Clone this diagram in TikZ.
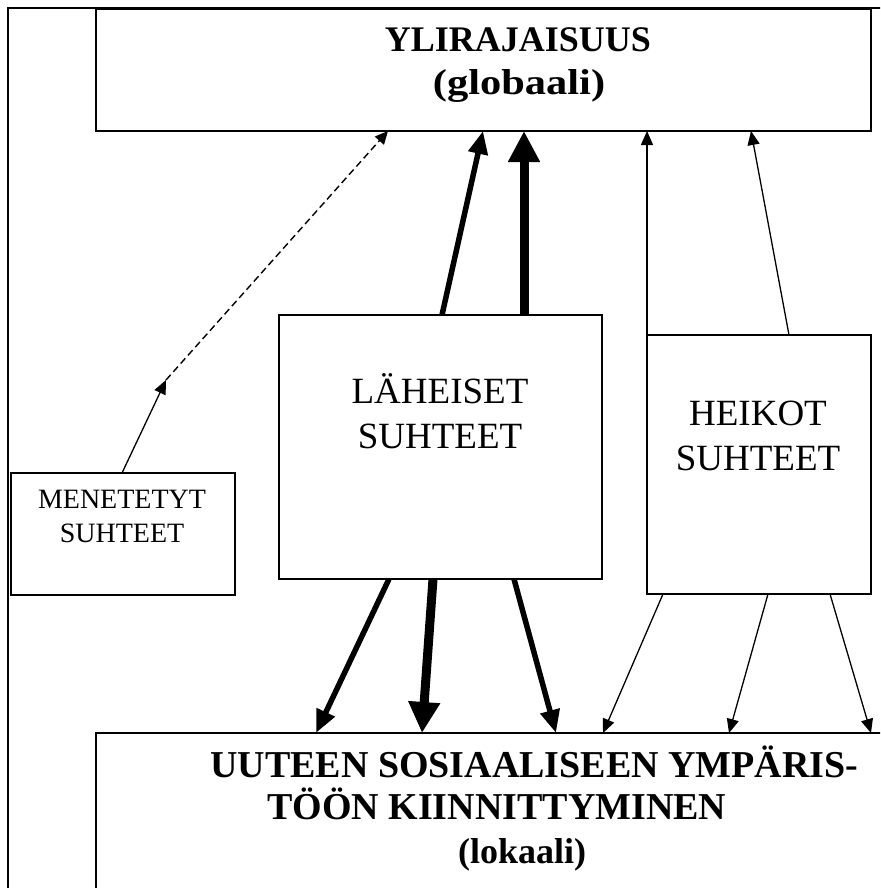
\documentclass[tikz,border=0pt]{standalone}
\usepackage{fontspec}
\usepackage{graphicx}
\setmainfont{Liberation Serif}
\usetikzlibrary{arrows.meta}
\tikzset{
 box/.style={draw, line width=1.5pt, rectangle, inner sep=0pt, outer sep=0pt, anchor=north west},
 thinarr/.style={line width=1.3pt, -{Triangle[length=14pt,width=12pt]}},
 medarr/.style={line width=5.5pt, -{Triangle[length=23pt,width=19pt]}},
 thickarr/.style={line width=9pt, -{Triangle[length=31pt,width=30pt]}},
 dasharr/.style={line width=1.4pt, dash pattern=on 7pt off 4pt, -{Triangle[length=13pt,width=12pt]}},
 ttl/.style={anchor=base, inner sep=0pt, font=\fontsize{36}{42}\selectfont\bfseries},
 midtxt/.style={anchor=base, inner sep=0pt, font=\fontsize{37}{44}\selectfont},
 smltxt/.style={anchor=base, inner sep=0pt, font=\fontsize{28}{33}\selectfont},
 btm/.style={anchor=base west, inner sep=0pt, font=\fontsize{38}{44}\selectfont\bfseries},
}
\begin{document}
\begin{tikzpicture}[x=1pt,y=-1pt]
\useasboundingbox (0,0) rectangle (880,888);
\clip (0,0) rectangle (880,888);
\fill[white] (0,0) rectangle (880,888);
% outer frame
\draw[line width=1.5pt] (8,900) -- (8,8) -- (900,8);
% boxes
\node[box, minimum width=775pt, minimum height=122pt] (top) at (96,9) {};
\node[box, minimum width=323pt, minimum height=264pt] (lah) at (279,315) {};
\node[box, minimum width=224pt, minimum height=259pt] (heik) at (647,335) {};
\node[box, minimum width=224pt, minimum height=122pt] (men) at (11,473) {};
\node[box, minimum width=900pt, minimum height=300pt] (bot) at (96,733) {};
% texts
\node[ttl] (t1) at (518,52) {YLIRAJAISUUS};
\node[ttl] (t2) at (519,95) {\scalebox{1.18}[1]{(globaali)}};
\node[midtxt] (l1) at (440,403) {LÄHEISET};
\node[midtxt] (l2) at (440,448) {SUHTEET};
\node[midtxt] (h1) at (758,425) {HEIKOT};
\node[midtxt] (h2) at (758,470) {SUHTEET};
\node[smltxt] (m1) at (122,508) {MENETETYT};
\node[smltxt] (m2) at (122,542) {SUHTEET};
\node[btm] (b1) at (210,777) {UUTEEN SOSIAALISEEN YMPÄRIS-};
\node[btm] (b2) at (267,819) {TÖÖN KIINNITTYMINEN};
\node[btm, font=\fontsize{36}{42}\selectfont\bfseries] (b3) at (458,863) {(lokaali)};
% connectors
\coordinate (dm) at (166,380);
\draw[thinarr] ([xshift=111pt]men.north west) -- (dm);
\draw[dasharr] (dm) -- ([xshift=292pt]top.south west);
\draw[medarr] ([xshift=163pt]lah.north west) -- ([xshift=387pt]top.south west);
\draw[thickarr] ([xshift=245pt]lah.north west) -- ([xshift=428pt]top.south west);
\draw[thinarr] (heik.north west) -- ([xshift=551pt]top.south west);
\draw[thinarr] ([xshift=142pt]heik.north west) -- ([xshift=655pt]top.south west);
\draw[medarr] ([xshift=110pt]lah.south west) -- ([xshift=220pt]bot.north west);
\draw[thickarr] ([xshift=154pt]lah.south west) -- ([xshift=326pt]bot.north west);
\draw[medarr] ([xshift=235pt]lah.south west) -- ([xshift=460pt]bot.north west);
\draw[thinarr] ([xshift=16pt]heik.south west) -- ([xshift=507pt]bot.north west);
\draw[thinarr] ([xshift=121pt]heik.south west) -- ([xshift=633pt]bot.north west);
\draw[thinarr] ([xshift=183pt]heik.south west) -- ([xshift=775pt]bot.north west);
\end{tikzpicture}
\end{document}
